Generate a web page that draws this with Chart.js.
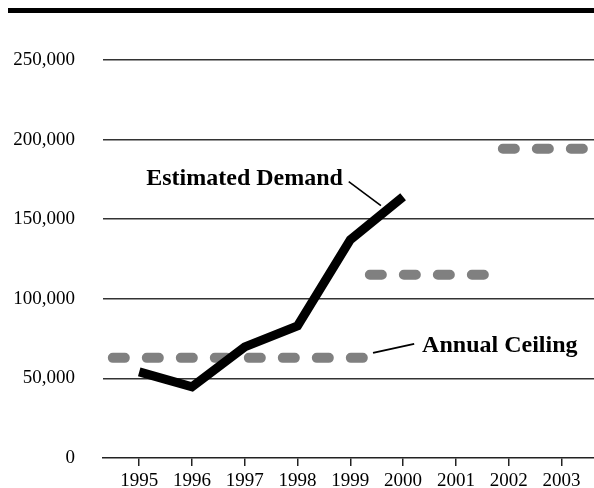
<!DOCTYPE html>
<html>
<head>
<meta charset="utf-8">
<script src="https://cdn.jsdelivr.net/npm/chart.js@4/dist/chart.umd.min.js"></script>
<style>
html,body{margin:0;padding:0;background:#fff;}
#wrap{width:594px;height:488px;position:relative;}
</style>
</head>
<body>
<div id="wrap"><canvas id="c" width="594" height="488"></canvas></div>
<script>
// ---- data ----
const years = [1995, 1996, 1997, 1998, 1999, 2000, 2001, 2002, 2003];
const demandYears = [1995, 1996, 1997, 1998, 1999, 2000];
const demandValues = [54100, 44650, 69800, 83000, 137100, 164150];
const ceilingStart = [1994.5, 1999.37, 2001.89];
const ceilingEnd = [1999.26, 2001.55, 2003.43];
const ceilingValues = [62900, 115100, 194300];
const yTicks = [0, 50000, 100000, 150000, 200000, 250000];

const demandLabel = 'Estimated Demand';
const ceilingLabel = 'Annual Ceiling';

const demandData = demandYears.map((y, i) => ({x: y, y: demandValues[i]}));
const ceilingData = [];
ceilingStart.forEach((s, i) => {
  if (i > 0) ceilingData.push({x: (ceilingEnd[i-1] + s) / 2, y: null});
  ceilingData.push({x: s, y: ceilingValues[i]});
  ceilingData.push({x: ceilingEnd[i], y: ceilingValues[i]});
});

const SERIF = '"Liberation Serif", "Times New Roman", serif';

const decor = {
  id: 'decor',
  beforeDraw(chart) {
    const ctx = chart.ctx;
    ctx.save();
    ctx.fillStyle = '#fff';
    ctx.fillRect(0, 0, chart.width, chart.height);
    ctx.fillStyle = '#000';
    ctx.fillRect(8, 8, chart.width - 8, 5);
    ctx.restore();
  },
  afterDatasetsDraw(chart) {
    const ctx = chart.ctx, xs = chart.scales.x, ys = chart.scales.y;
    const px = v => xs.getPixelForValue(v), py = v => ys.getPixelForValue(v);
    ctx.save();
    ctx.fillStyle = '#000';
    ctx.strokeStyle = '#000';
    ctx.lineWidth = 1.6;
    ctx.font = 'bold 24px ' + SERIF;
    ctx.textBaseline = 'alphabetic';
    // Estimated Demand label
    ctx.textAlign = 'right';
    ctx.fillText(demandLabel, px(1998.86), py(171700));
    ctx.beginPath();
    ctx.moveTo(px(1998.97), py(173600));
    ctx.lineTo(px(1999.58), py(158500));
    ctx.stroke();
    // Annual Ceiling label
    ctx.textAlign = 'left';
    ctx.fillText(ceilingLabel, px(2000.36), py(66670));
    ctx.lineWidth = 2;
    ctx.beginPath();
    ctx.moveTo(px(1999.43), py(66040));
    ctx.lineTo(px(2000.21), py(71700));
    ctx.stroke();
    ctx.restore();
  }
};

new Chart(document.getElementById('c'), {
  type: 'line',
  data: {
    datasets: [
      {
        label: demandLabel,
        data: demandData,
        borderColor: '#000',
        borderWidth: 9,
        borderCapStyle: 'butt',
        borderJoinStyle: 'miter',
        pointRadius: 0,
        tension: 0,
        fill: false
      },
      {
        label: ceilingLabel,
        data: ceilingData,
        borderColor: '#808080',
        borderWidth: 10,
        borderDash: [12, 22],
        borderCapStyle: 'round',
        pointRadius: 0,
        tension: 0,
        spanGaps: false,
        fill: false
      }
    ]
  },
  options: {
    responsive: false,
    devicePixelRatio: 1,
    animation: false,
    events: [],
    layout: {padding: {left: 0, right: 0, top: 60, bottom: 0}},
    plugins: {legend: {display: false}, tooltip: {enabled: false}, title: {display: false}},
    scales: {
      x: {
        type: 'linear',
        min: 1994.314,
        max: 2003.617,
        afterBuildTicks: ax => { ax.ticks = years.map(v => ({value: v})); },
        afterFit: ax => { ax.height = 30; },
        grid: {drawOnChartArea: false, drawTicks: true, tickLength: 8, color: '#222', lineWidth: 1.5},
        border: {display: true, color: '#222', width: 1.5},
        ticks: {
          padding: 4,
          color: '#000',
          font: {family: SERIF, size: 19},
          maxRotation: 0,
          autoSkip: false,
          callback: v => String(v)
        }
      },
      y: {
        min: 0,
        max: 250000,
        afterBuildTicks: ax => { ax.ticks = yTicks.map(v => ({value: v})); },
        afterFit: ax => { ax.width = 103; },
        grid: {
          drawTicks: true,
          tickLength: 28,
          tickColor: 'rgba(0,0,0,0)',
          color: ctx => ctx.tick && ctx.tick.value === 0 ? 'rgba(0,0,0,0)' : '#333',
          lineWidth: 1.5
        },
        border: {display: false},
        ticks: {
          padding: 0,
          color: '#000',
          font: {family: SERIF, size: 19},
          callback: v => v.toLocaleString('en-US')
        }
      }
    }
  },
  plugins: [decor]
});
</script>
</body>
</html>
